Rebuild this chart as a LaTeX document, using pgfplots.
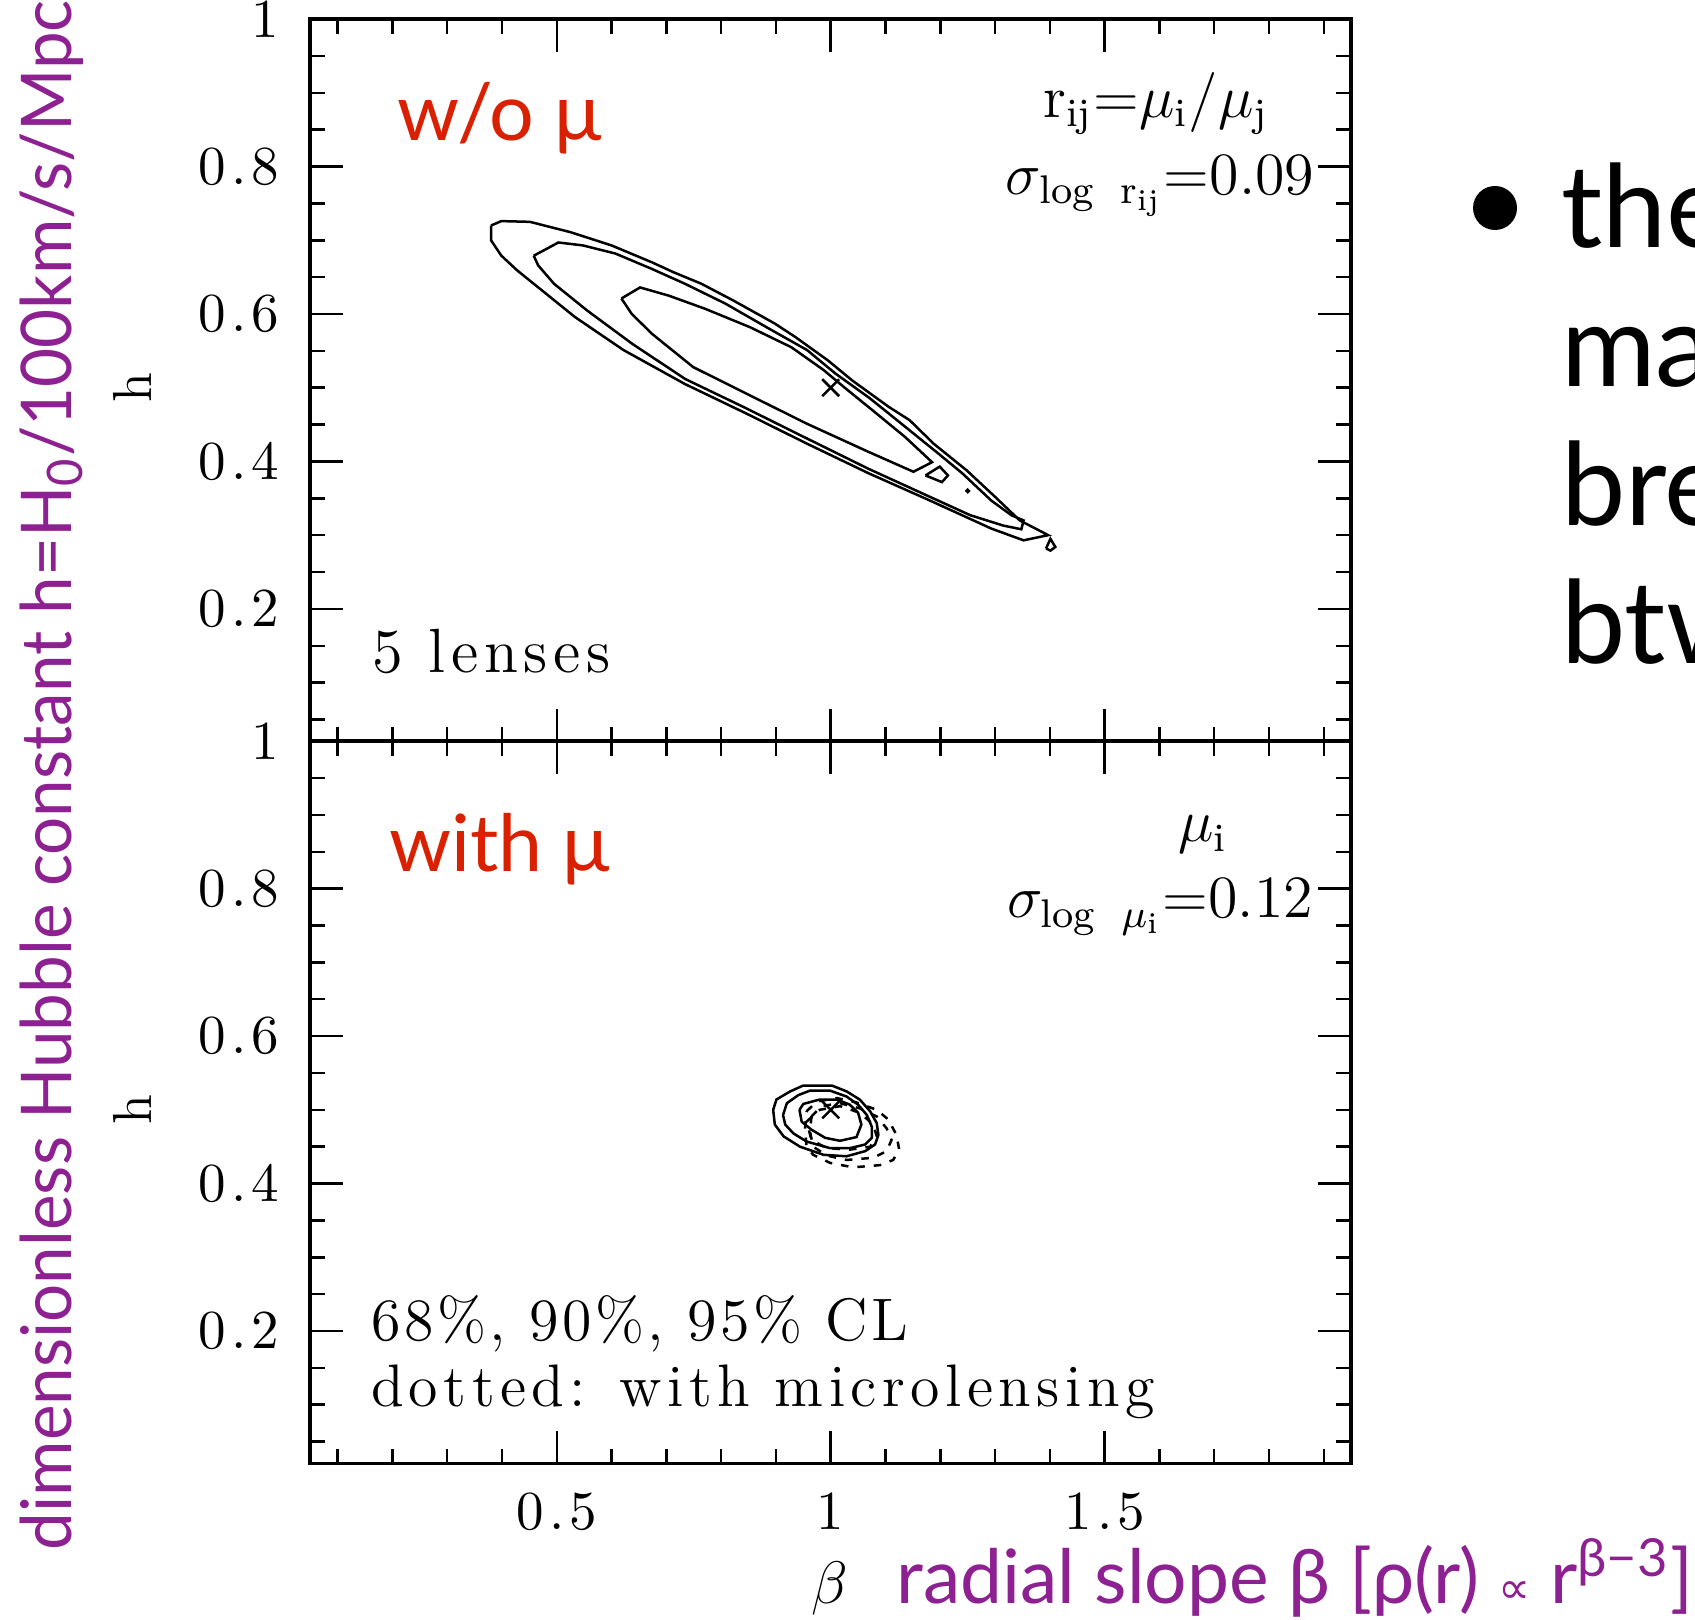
\documentclass[border=0pt]{standalone}
\usepackage{fontspec}
\usepackage{pgfplots}
\pgfplotsset{compat=1.18}
\newfontfamily\gill{Lato}
\newfontfamily\dejavu{DejaVu Sans}
\newfontfamily\spaced{Latin Modern Roman}[LetterSpace=9]
\newfontfamily\spacedb{Latin Modern Roman}[LetterSpace=6]
\definecolor{slidepurple}{RGB}{142,33,145}
\definecolor{slidered}{RGB}{217,32,0}
\pgfplotsset{panel/.style={
  scale only axis, width=208.2pt, height=144.5pt,
  xmin=0.05, xmax=1.95, ymin=0.02, ymax=1,
  xtick={0.5,1,1.5}, minor xtick={0.1,0.2,...,1.9},
  ytick={0.2,0.4,0.6,0.8,1}, minor ytick={0.05,0.1,...,0.95},
  xtick pos=both, ytick pos=both, xticklabel pos=lower, yticklabel pos=left,
  tick align=inside, major tick length=6.6pt, minor tick length=3pt,
  every tick/.style={black, line width=0.5pt},
  axis line style={line width=0.7pt},
  /pgf/number format/assume math mode=true,
  tick label style={font=\spaced\fontsize{11}{13}\selectfont},
  yticklabel style={xshift=-2.7pt},
  xticklabel style={yshift=-2.3pt},
  ylabel={h},
  ylabel style={at={(axis description cs:-0.171,0.49)}, anchor=center, font=\fontsize{11}{13}\selectfont},
  clip=false,
}}
\begin{document}
\begin{tikzpicture}
\useasboundingbox (0,0) rectangle (339pt,323.8pt);
% ---------- top panel ----------
\begin{axis}[panel, at={(62.04pt,175.48pt)}, anchor=south west, xticklabels={}]
\addplot[black, line width=0.5pt] coordinates {
(0.380,0.720) (0.399,0.726) (0.451,0.725) (0.525,0.711) (0.600,0.693) (0.674,0.670)
(0.712,0.657) (0.764,0.641) (0.823,0.618) (0.898,0.587) (0.935,0.569) (0.995,0.537)
(1.039,0.510) (1.106,0.474) (1.144,0.456) (1.188,0.424) (1.248,0.388) (1.300,0.352)
(1.345,0.320) (1.397,0.300) (1.352,0.293) (1.293,0.309) (1.181,0.347) (1.069,0.384)
(0.957,0.424) (0.846,0.465) (0.734,0.505) (0.622,0.551) (0.533,0.596) (0.473,0.632)
(0.428,0.659) (0.399,0.679) (0.380,0.700) (0.380,0.720)};
\addplot[black, line width=0.5pt] coordinates {
(0.458,0.679) (0.503,0.697) (0.548,0.693) (0.607,0.682) (0.674,0.661) (0.734,0.641)
(0.808,0.614) (0.883,0.582) (0.957,0.551) (1.009,0.519) (1.069,0.487) (1.106,0.465)
(1.151,0.438) (1.196,0.411) (1.240,0.384) (1.293,0.347) (1.330,0.327) (1.352,0.320)
(1.348,0.308) (1.315,0.313) (1.255,0.327) (1.181,0.352) (1.069,0.390) (0.957,0.431)
(0.846,0.472) (0.734,0.512) (0.637,0.560) (0.555,0.605) (0.495,0.641) (0.466,0.666)
(0.458,0.679)};
\addplot[black, line width=0.5pt] coordinates {
(0.618,0.621) (0.652,0.636) (0.704,0.625) (0.771,0.607) (0.853,0.582) (0.928,0.555)
(0.987,0.524) (1.024,0.501) (1.077,0.469) (1.136,0.433) (1.185,0.399) (1.151,0.386)
(1.069,0.413) (0.957,0.451) (0.846,0.492) (0.749,0.528) (0.674,0.573) (0.637,0.600)
(0.618,0.621)};
\addplot[black, line width=0.5pt] coordinates {
(1.173,0.381) (1.199,0.393) (1.214,0.381) (1.203,0.372) (1.173,0.381)};
\addplot[black, line width=0.5pt] coordinates {
(1.393,0.282) (1.401,0.295) (1.410,0.284) (1.401,0.279) (1.393,0.282)};
\addplot[only marks, mark=*, mark size=0.3pt, black] coordinates {(1.250,0.360)};
\addplot[only marks, mark=x, mark size=2.4pt, mark options={line width=0.5pt}, black] coordinates {(1.0,0.5)};
\end{axis}
% ---------- bottom panel ----------
\begin{axis}[panel, at={(62.04pt,31.06pt)}, anchor=south west]
\addplot[black, line width=0.5pt] coordinates {
(0.895,0.500) (0.901,0.514) (0.926,0.525) (0.950,0.533) (1.002,0.533) (1.029,0.525)
(1.053,0.514) (1.072,0.498) (1.084,0.482) (1.087,0.466) (1.081,0.453) (1.063,0.444)
(1.029,0.437) (0.987,0.439) (0.944,0.450) (0.914,0.464) (0.898,0.480) (0.895,0.500)};
\addplot[black, line width=0.5pt] coordinates {
(0.913,0.493) (0.920,0.509) (0.941,0.520) (0.962,0.526) (0.999,0.526) (1.029,0.518)
(1.050,0.507) (1.066,0.493) (1.075,0.477) (1.075,0.462) (1.063,0.453) (1.035,0.448)
(0.999,0.448) (0.956,0.457) (0.932,0.468) (0.917,0.480) (0.913,0.493)};
\addplot[black, line width=0.5pt] coordinates {
(0.943,0.500) (0.950,0.508) (0.980,0.514) (1.011,0.514) (1.035,0.507) (1.050,0.496)
(1.056,0.480) (1.047,0.463) (1.017,0.458) (0.990,0.462) (0.965,0.473) (0.947,0.484)
(0.943,0.500)};
\addplot[black, line width=0.5pt, dash pattern=on 1.5pt off 1.8pt] coordinates {
(0.956,0.498) (0.974,0.511) (1.011,0.516) (1.047,0.510) (1.084,0.500) (1.105,0.487)
(1.120,0.466) (1.125,0.446) (1.114,0.432) (1.090,0.425) (1.041,0.422) (0.999,0.428)
(0.968,0.439) (0.956,0.450) (0.953,0.473) (0.956,0.498)};
\addplot[black, line width=0.5pt, dash pattern=on 1.5pt off 1.8pt] coordinates {
(0.965,0.491) (0.983,0.505) (1.017,0.509) (1.053,0.502) (1.084,0.491) (1.102,0.475)
(1.111,0.459) (1.102,0.444) (1.078,0.435) (1.029,0.432) (0.993,0.438) (0.968,0.450)
(0.962,0.471) (0.965,0.491)};
\addplot[black, line width=0.5pt, dash pattern=on 1.5pt off 1.8pt] coordinates {
(0.956,0.484) (0.980,0.500) (1.017,0.505) (1.053,0.496) (1.078,0.480) (1.084,0.464)
(1.072,0.450) (1.035,0.446) (0.993,0.448) (0.965,0.459) (0.956,0.484)};
\addplot[only marks, mark=x, mark size=2.4pt, mark options={line width=0.5pt}, black] coordinates {(1.0,0.5)};
\end{axis}
% ---------- annotations ----------
\node[anchor=base west, inner sep=0pt, text=slidered, font=\gill\fontsize{15.8}{18}\selectfont] at (79.3pt,295.7pt) {w/o μ};
\node[anchor=base west, inner sep=0pt, text=slidered, font=\gill\fontsize{15.8}{18}\selectfont] at (77.6pt,149.4pt) {with μ};
\node[anchor=base west, inner sep=0pt, font=\spaced\fontsize{12.5}{14}\selectfont] at (74.2pt,189.2pt) {5 lenses};
\node[anchor=base west, inner sep=0pt, font=\spacedb\fontsize{12}{14}\selectfont] at (74pt,55.8pt) {68\%, 90\%, 95\% CL};
\node[anchor=base west, inner sep=0pt, font=\spaced\fontsize{12}{14}\selectfont] at (74pt,42.6pt) {dotted: with microlensing};
\node[anchor=base, inner sep=0pt, font=\fontsize{12}{14}\selectfont] at (231.2pt,300.2pt) {$\mathrm{r}_{\mathrm{ij}}{=}\mu_{\mathrm{i}}/\mu_{\mathrm{j}}$};
\node[anchor=base, inner sep=0pt, font=\fontsize{12}{14}\selectfont] at (232pt,284.8pt) {$\sigma_{\log\ \mathrm{r}_{\mathrm{ij}}}{=}0.09$};
\node[anchor=base, inner sep=0pt, font=\fontsize{12}{14}\selectfont] at (240.6pt,155.4pt) {$\mu_{\mathrm{i}}$};
\node[anchor=base, inner sep=0pt, font=\fontsize{12}{14}\selectfont] at (232pt,140.2pt) {$\sigma_{\log\ \mu_{\mathrm{i}}}{=}0.12$};
% axis label beta and purple labels
\node[anchor=base, inner sep=0pt, font=\fontsize{12}{14}\selectfont] at (166pt,3.2pt) {$\beta$};
\node[anchor=base west, inner sep=0pt, text=slidepurple, font=\gill\fontsize{15}{17}\selectfont] at (179.1pt,3.2pt) {radial slope β [ρ(r) {\dejavu\fontsize{9}{9}\selectfont ∝} r\textsuperscript{β−3}]};
\node[anchor=base west, inner sep=0pt, rotate=90, text=slidepurple, font=\gill\fontsize{14}{16}\selectfont] at (14.4pt,13.6pt) {\scalebox{0.962}[1]{dimensionless Hubble constant h=H\textsubscript{0}/100km/s/Mpc}};
% slide bullet text
\fill (299pt,282.2pt) circle (4.4pt);
\node[anchor=base west, inner sep=0pt, font=\gill\fontsize{23}{27}\selectfont] at (312pt,274.2pt) {the};
\node[anchor=base west, inner sep=0pt, font=\gill\fontsize{23}{27}\selectfont] at (312pt,246.5pt) {ma};
\node[anchor=base west, inner sep=0pt, font=\gill\fontsize{23}{27}\selectfont] at (312pt,218.7pt) {bre};
\node[anchor=base west, inner sep=0pt, font=\gill\fontsize{23}{27}\selectfont] at (312pt,191.0pt) {btw};
\end{tikzpicture}
\end{document}
